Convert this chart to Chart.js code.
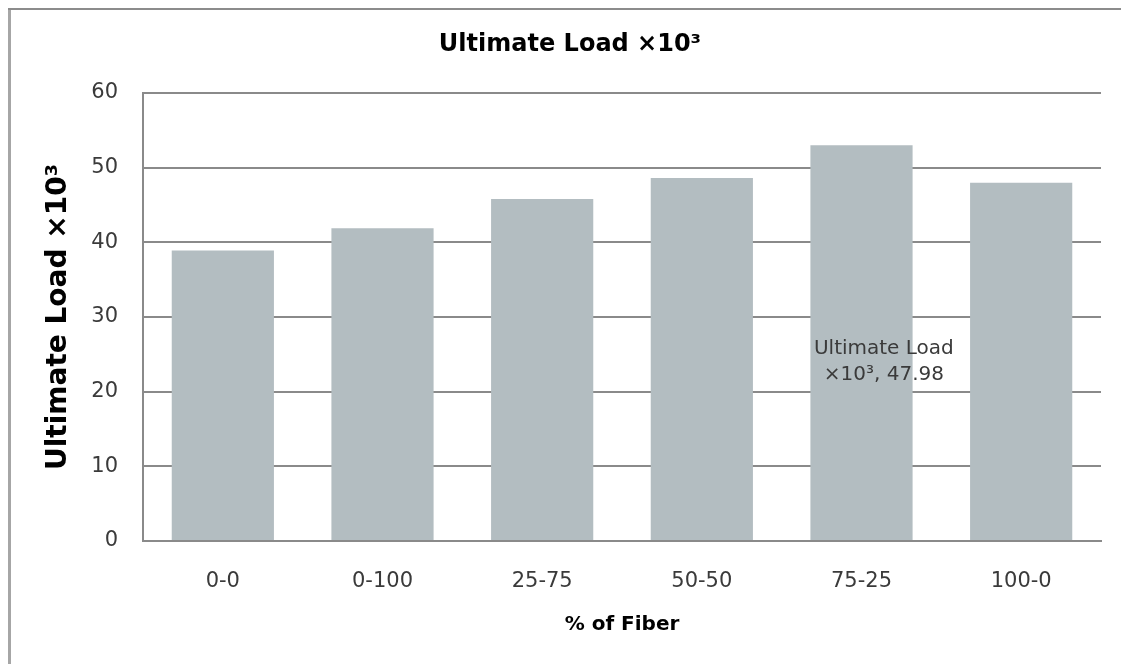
<!DOCTYPE html>
<html>
<head>
<meta charset="utf-8">
<script src="https://cdn.jsdelivr.net/npm/chart.js@4/dist/chart.umd.min.js"></script>
<style>
  html, body { margin: 0; padding: 0; background: #fff; }
  #wrap { width: 1121px; height: 664px; }
</style>
</head>
<body>
<div id="wrap"><canvas id="c" width="1121" height="664"></canvas></div>
<script>
// Fiber mix categories and measured ultimate load (x10^3)
const categories = ['0-0', '0-100', '25-75', '50-50', '75-25', '100-0'];
const ultimateLoad = [38.9, 41.9, 45.8, 48.6, 53.0, 47.98];
const yTicks = [0, 10, 20, 30, 40, 50, 60];

const chartTitle = 'Ultimate Load \u00d710\u00b3';
const yTitle = 'Ultimate Load \u00d710\u00b3';
const xTitle = '% of Fiber';

// Data callout shown for the 100-0 bar
const calloutIndex = 5;
const calloutLines = ['Ultimate Load', '\u00d710\u00b3, ' + ultimateLoad[calloutIndex].toFixed(2)];

const FONT = '"DejaVu Sans", Verdana, sans-serif';
const GRID = '#8a8a8a';
const TEXT = '#3a3a3a';

// White background plus the grey frame on the top and left edges
const framePlugin = {
  id: 'frame',
  beforeDraw(chart) {
    const ctx = chart.ctx;
    ctx.save();
    ctx.fillStyle = '#ffffff';
    ctx.fillRect(0, 0, chart.width, chart.height);
    ctx.strokeStyle = '#a6a6a6';
    ctx.lineWidth = 3;
    ctx.beginPath();
    ctx.moveTo(9.5, 8);
    ctx.lineTo(9.5, chart.height);
    ctx.stroke();
    ctx.strokeStyle = '#8c8c8c';
    ctx.lineWidth = 2;
    ctx.beginPath();
    ctx.moveTo(8, 9);
    ctx.lineTo(chart.width, 9);
    ctx.stroke();
    ctx.restore();
  }
};

// Chart heading, centred on the framed area
const headingPlugin = {
  id: 'heading',
  afterDraw(chart) {
    const ctx = chart.ctx;
    ctx.save();
    ctx.font = 'bold 24px ' + FONT;
    ctx.fillStyle = '#000000';
    ctx.textAlign = 'center';
    ctx.textBaseline = 'middle';
    ctx.fillText(chartTitle, 570, 45);
    ctx.restore();
  }
};

// Value callout placed inside the plot, between the last two bars
const calloutPlugin = {
  id: 'callout',
  afterDatasetsDraw(chart) {
    const xs = chart.scales.x, ys = chart.scales.y;
    const cx = xs.getPixelForValue(calloutIndex - 0.86);
    const cy = ys.getPixelForValue(24.0);
    const ctx = chart.ctx;
    ctx.save();
    ctx.font = '20px ' + FONT;
    ctx.fillStyle = TEXT;
    ctx.textAlign = 'center';
    ctx.textBaseline = 'middle';
    const lh = 26;
    calloutLines.forEach((t, i) => {
      ctx.fillText(t, cx, cy + (i - (calloutLines.length - 1) / 2) * lh);
    });
    ctx.restore();
  }
};

new Chart(document.getElementById('c'), {
  type: 'bar',
  data: {
    labels: categories,
    datasets: [{
      label: yTitle,
      data: ultimateLoad,
      backgroundColor: '#b3bdc1',
      borderWidth: 0,
      barPercentage: 0.64,
      categoryPercentage: 1.0
    }]
  },
  options: {
    responsive: false,
    animation: false,
    devicePixelRatio: 1,
    layout: { padding: { top: 93, right: 20, bottom: 0, left: 0 } },
    plugins: {
      legend: { display: false },
      title: { display: false },
      tooltip: { enabled: false }
    },
    scales: {
      x: {
        grid: { display: false, drawTicks: false },
        border: { display: true, color: GRID, width: 2 },
        ticks: {
          color: TEXT,
          font: { family: FONT, size: 21 },
          padding: 28
        },
        title: {
          display: true,
          text: xTitle,
          color: '#000000',
          font: { family: FONT, size: 20, weight: 'bold' },
          padding: { top: 0, bottom: 27 }
        },
        afterFit(scale) { scale.height = 123; }
      },
      y: {
        min: 0,
        max: 60,
        afterBuildTicks(scale) { scale.ticks = yTicks.map(v => ({ value: v })); },
        grid: { color: GRID, lineWidth: 2, drawTicks: false },
        border: { display: true, color: GRID, width: 2 },
        ticks: {
          color: TEXT,
          font: { family: FONT, size: 21 },
          padding: 25
        },
        title: {
          display: true,
          text: yTitle,
          color: '#000000',
          font: { family: FONT, size: 28, weight: 'bold' },
          padding: { top: 42, bottom: 0 }
        },
        afterFit(scale) { scale.width = 143; }
      }
    }
  },
  plugins: [framePlugin, headingPlugin, calloutPlugin]
});
</script>
</body>
</html>
